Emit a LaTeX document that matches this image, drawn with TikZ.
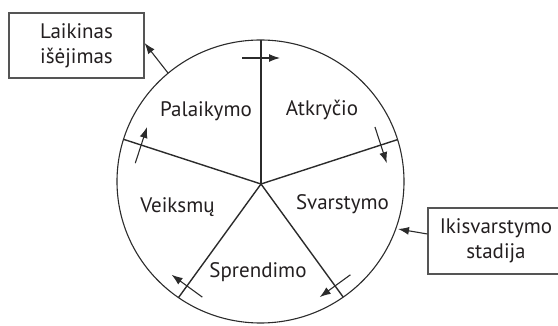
\documentclass[tikz,border=0pt]{standalone}
\usepackage{fontspec}
\setmainfont{PT Sans}
\usetikzlibrary{calc,arrows.meta}
\definecolor{ink}{HTML}{231F20}
\definecolor{linec}{HTML}{2B2B2B}
\tikzset{
  x=1pt,y=1pt,
  lbl/.style={anchor=base,inner sep=0pt,text=ink,font=\fontsize{21}{25}\selectfont},
  boxnode/.style={draw=linec!80,line width=1.1pt,minimum width=135pt,minimum height=65pt,
    align=center,text=ink,inner sep=0pt,font=\fontsize{21}{25}\selectfont},
  spoke/.style={draw=linec,line width=1.4pt},
  rim/.style={draw=linec,line width=1.1pt},
  flow/.style={draw=linec,line width=1.1pt,-{Latex[length=11pt,width=8pt]}},
}
\begin{document}
\begin{tikzpicture}
\useasboundingbox (0,0) rectangle (558,326);
\clip (0,0) rectangle (558,326);
% rim
\draw[rim] (260.5,144.5) ellipse [x radius=143.5, y radius=141.5];
% hub and spoke ends
\coordinate (H) at (261,142);
\coordinate (s90) at (261,286);
\coordinate (s18) at (397.6,186.4);
\coordinate (s162) at (123.5,186.7);
\coordinate (s306) at (343.2,28.9);
\coordinate (s234) at (178.5,28.4);
\foreach \e in {s90,s18,s162,s306,s234} \draw[spoke] (H) -- (\e);
% clockwise tick arrows across spokes
\foreach \a in {90,18,162,-54,-126} {
  \coordinate (ta\a) at ($(H)+(\a:126)+(\a+90:19)$);
  \coordinate (tb\a) at ($(H)+(\a:126)+(\a-90:19)$);
  \draw[flow] (ta\a) -- (tb\a);
}
% sector labels
\node[lbl] (pal) at (206,209) {Palaikymo};
\node[lbl] (atk) at (322,210) {Atkryčio};
\node[lbl] (sva) at (342.5,116) {Svarstymo};
\node[lbl] (vei) at (177.5,113) {Veiksmų};
\node[lbl] (spr) at (258,48) {Sprendimo};
% boxes
\node[boxnode] (lai) at (76.5,280.5) {Laikinas\\išėjimas};
\node[boxnode,minimum width=136pt,minimum height=66pt] (iki) at (496,85) {Ikisvarstymo\\stadija};
% connectors
\coordinate (c1) at (168,253);
\coordinate (c2) at (398,97);
\draw[flow] (c1) -- ([yshift=2.5pt]lai.east);
\draw[flow] ([yshift=7pt]iki.west) -- (c2);
\end{tikzpicture}
\end{document}
